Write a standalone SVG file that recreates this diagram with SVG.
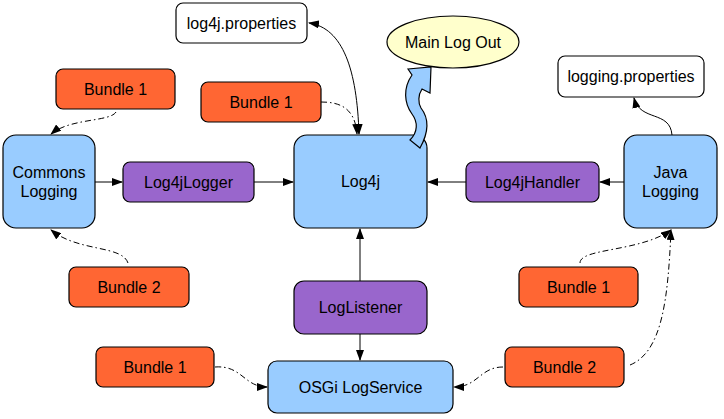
<svg xmlns="http://www.w3.org/2000/svg" width="724" height="419" viewBox="0 0 724 419">
<defs>
<marker id="ah" markerUnits="userSpaceOnUse" markerWidth="11" markerHeight="8" refX="10" refY="4" orient="auto-start-reverse">
<path d="M0,0 L11,4 L0,8 z" fill="#000"/>
</marker>
<style>
text{font-family:"Liberation Sans",Arial,sans-serif;font-size:16px;fill:#000;text-anchor:middle;dominant-baseline:central}
.box{stroke:#000;stroke-width:1.2}
.bundle{fill:#ff6633}
.blue{fill:#99ccff}
.purple{fill:#9966cc}
.white{fill:#fff}
.c{fill:none;stroke:#000;stroke-width:1}
.dd{stroke-dasharray:6,3,1.5,3}
</style>
</defs>
<rect width="724" height="419" fill="#fff"/>
<g id="connectors">
<path class="c" d="M95,182 H122" marker-end="url(#ah)"/>
<path class="c" d="M254,182 H293" marker-end="url(#ah)"/>
<path class="c" d="M624,182 H600" marker-end="url(#ah)"/>
<path class="c" d="M466,182 H428" marker-end="url(#ah)"/>
<path class="c" d="M360,281 V229" marker-end="url(#ah)"/>
<path class="c" d="M360,334 V360" marker-end="url(#ah)"/>
<path class="c" d="M309,23 C343,28 357,70 359,134" marker-start="url(#ah)" marker-end="url(#ah)"/>
<path class="c dd" d="M321,102 C340,102 355,108 357,134" marker-end="url(#ah)"/>
<path class="c dd" d="M116,112 C110,122 70,118 51,134" marker-end="url(#ah)"/>
<path class="c dd" d="M128,263 C122,245 78,252 51,230" marker-end="url(#ah)"/>
<path class="c dd" d="M215,367 C242,365 244,387 267,387" marker-end="url(#ah)"/>
<path class="c dd" d="M503,367 C480,367 478,387 454,387" marker-end="url(#ah)"/>
<path class="c dd" d="M580,263 C580,248 640,252 671,230" marker-end="url(#ah)"/>
<path class="c dd" d="M630,365 C662,352 668,300 671,230" marker-end="url(#ah)"/>
<path class="c" d="M672,135 C670,110 640,122 634,98" marker-end="url(#ah)"/>
</g>
<g id="log4j-properties"><rect class="box white" x="176" y="3" width="131" height="40" rx="7"/><text x="241.5" y="23">log4j.properties</text></g>
<g id="main-log-out"><ellipse cx="453" cy="42" rx="66" ry="26" fill="#ffffcc" stroke="#000" stroke-width="1.2"/><text x="453" y="42">Main Log Out</text></g>
<g id="logging-properties"><rect class="box white" x="558" y="56" width="146" height="41" rx="7"/><text x="631" y="76.5">logging.properties</text></g>
<g id="bundle1-a"><rect class="box bundle" x="56" y="69" width="119" height="40" rx="7"/><text x="115.5" y="89">Bundle 1</text></g>
<g id="bundle1-b"><rect class="box bundle" x="201" y="82" width="120" height="40" rx="7"/><text x="261" y="102">Bundle 1</text></g>
<g id="commons-logging"><rect class="box blue" x="3" y="135" width="92" height="93" rx="13"/><text x="49" y="172">Commons</text><text x="49" y="191">Logging</text></g>
<g id="log4jlogger"><rect class="box purple" x="123" y="162" width="131" height="40" rx="7"/><text x="188.5" y="182">Log4jLogger</text></g>
<g id="log4j"><rect class="box blue" x="294" y="135" width="133" height="93" rx="13"/><text x="360.5" y="181.5">Log4j</text></g>
<g id="main-arrow"><path d="M408,69 L431,67 L430,93 L422,89 C418,95 418,103 421,108 C428,117 430,130 420,148 L410,140 C418,132 418,122 412,114 C404,103 403,88 412,75 Z" fill="#99ccff" stroke="#000" stroke-width="1.2" stroke-linejoin="miter"/></g>
<g id="log4jhandler"><rect class="box purple" x="466" y="162" width="133" height="40" rx="7"/><text x="532.5" y="182">Log4jHandler</text></g>
<g id="java-logging"><rect class="box blue" x="624" y="135" width="93" height="93" rx="13"/><text x="670.5" y="172">Java</text><text x="670.5" y="191">Logging</text></g>
<g id="bundle2-a"><rect class="box bundle" x="69" y="267" width="120" height="40" rx="7"/><text x="129" y="287">Bundle 2</text></g>
<g id="loglistener"><rect class="box purple" x="294" y="281" width="133" height="53" rx="10"/><text x="360.5" y="307.5">LogListener</text></g>
<g id="bundle1-c"><rect class="box bundle" x="519" y="267" width="119" height="40" rx="7"/><text x="578.5" y="287">Bundle 1</text></g>
<g id="bundle1-d"><rect class="box bundle" x="96" y="347" width="118" height="40" rx="7"/><text x="155" y="367">Bundle 1</text></g>
<g id="osgi-logservice"><rect class="box blue" x="268" y="361" width="185" height="52" rx="9"/><text x="360.5" y="387">OSGi LogService</text></g>
<g id="bundle2-b"><rect class="box bundle" x="505" y="347" width="119" height="40" rx="7"/><text x="564.5" y="367">Bundle 2</text></g>
</svg>
